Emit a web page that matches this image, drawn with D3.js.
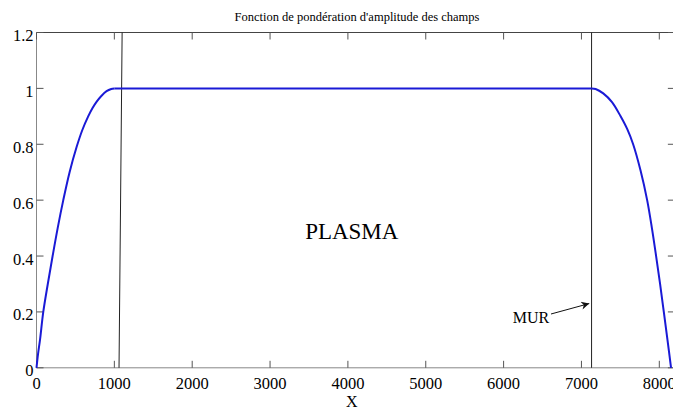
<!DOCTYPE html>
<html><head><meta charset="utf-8">
<script src="https://cdn.jsdelivr.net/npm/d3@7"></script>
<style>body{margin:0;background:#fff}svg{display:block}</style>
</head><body><svg id="c" width="673" height="410" font-family="'Liberation Serif', 'DejaVu Serif', serif"></svg>
<script>
const title = "Fonction de pondération d'amplitude des champs";
const xLabel = "X";
const xTicks = [0,1000,2000,3000,4000,5000,6000,7000,8000];
const yTicks = [0,0.2,0.4,0.6,0.8,1,1.2];
const yTickLabels = ["0","0.2","0.4","0.6","0.8","1","1.2"];
// weighting curve (rise, plateau, fall)
const riseX = [0,20,45,87,145,207,272,344,425,515,590,664,720,771,830,900,960,1000];
const riseY = [0,0.05,0.1,0.2,0.3,0.4,0.5,0.6,0.7,0.79,0.852,0.9,0.93,0.952,0.972,0.99,0.998,1];
const fallX = [7130,7182,7280,7395,7503,7590,7664,7760,7844,7905,7959,8010,8058,8105,8151];
const fallY = [1,0.998,0.982,0.95,0.9,0.853,0.8,0.705,0.6,0.5,0.4,0.3,0.2,0.1,0];
// wall lines (x at top, x at bottom)
const wallTopX = [1100,7130];
const wallBottomX = [1060,7130];
const plasmaLabel = {text:"PLASMA", x:4050, y:0.46};
const murLabel = {text:"MUR", ax:7100, ay:0.23};

const svg = d3.select("#c");
const m = {l:36.5, t:32.5, b:367.8};
const x = d3.scaleLinear().domain([0,8200]).range([m.l, m.l+8.2*77.85]);
const y = d3.scaleLinear().domain([0,1.2]).range([m.b, m.t]);

// box
svg.append("line").attr("x1",x(0)).attr("x2",x(8200)).attr("y1",y(1.2)).attr("y2",y(1.2)).attr("stroke","#444");
svg.append("line").attr("x1",x(0)).attr("x2",x(8200)).attr("y1",y(0)).attr("y2",y(0)).attr("stroke","#888");
svg.append("line").attr("x1",x(0)).attr("x2",x(0)).attr("y1",y(0)).attr("y2",y(1.2)).attr("stroke","#888");
svg.append("line").attr("x1",x(8200)).attr("x2",x(8200)).attr("y1",y(0)).attr("y2",y(1.2)).attr("stroke","#444");

const tl = 7;
xTicks.forEach(v=>{
  svg.append("line").attr("x1",x(v)).attr("x2",x(v)).attr("y1",y(0)).attr("y2",y(0)-tl).attr("stroke","#555");
  svg.append("line").attr("x1",x(v)).attr("x2",x(v)).attr("y1",y(1.2)).attr("y2",y(1.2)+tl).attr("stroke","#555");
  svg.append("text").attr("x",x(v)).attr("y",y(0)+21).attr("text-anchor","middle").attr("font-size",16.5).text(v);
});
yTicks.forEach((v,i)=>{
  svg.append("line").attr("x1",x(0)).attr("x2",x(0)+tl).attr("y1",y(v)).attr("y2",y(v)).attr("stroke","#555");
  svg.append("line").attr("x1",x(8200)).attr("x2",x(8200)-tl).attr("y1",y(v)).attr("y2",y(v)).attr("stroke","#555");
  svg.append("text").attr("x",x(0)-3).attr("y",y(v)+8.5).attr("text-anchor","end").attr("font-size",16.5).text(yTickLabels[i]);
});

// wall lines
wallTopX.forEach((v,i)=>{
  svg.append("line").attr("x1",x(v)).attr("x2",x(wallBottomX[i])).attr("y1",y(1.2)).attr("y2",y(0)).attr("stroke","#222").attr("stroke-width",1);
});

// curve
const line = d3.line().x(d=>x(d[0])).y(d=>y(d[1])).curve(d3.curveCatmullRom.alpha(0.5));
const rise = riseX.map((v,i)=>[v,riseY[i]]);
const fall = fallX.map((v,i)=>[v,fallY[i]]);
const plateau = [[riseX[riseX.length-1],1],[fallX[0],1]];
[rise, plateau, fall].forEach(p=>{
  svg.append("path").datum(p).attr("fill","none").attr("stroke","#1a1ad6").attr("stroke-width",2).attr("d", line);
});

// texts
svg.append("text").attr("x",357).attr("y",21).attr("text-anchor","middle").attr("font-size",12.5).text(title);
svg.append("text").attr("x",x(4050)).attr("y",407).attr("text-anchor","middle").attr("font-size",16).text(xLabel);
svg.append("text").attr("x",x(plasmaLabel.x)).attr("y",y(plasmaLabel.y)).attr("text-anchor","middle").attr("font-size",23).text(plasmaLabel.text);
svg.append("text").attr("x",531).attr("y",323).attr("text-anchor","middle").attr("font-size",16).text(murLabel.text);

// arrow
svg.append("defs").append("marker").attr("id","ah").attr("viewBox","0 0 10 10").attr("refX",10).attr("refY",5)
  .attr("markerWidth",10).attr("markerHeight",8).attr("orient","auto").attr("markerUnits","userSpaceOnUse")
  .append("path").attr("d","M0,0 L10,5 L0,10 L3,5 Z").attr("fill","#111");
svg.append("line").attr("x1",551).attr("y1",314).attr("x2",x(murLabel.ax)).attr("y2",y(murLabel.ay))
  .attr("stroke","#111").attr("marker-end","url(#ah)");
</script></body></html>
